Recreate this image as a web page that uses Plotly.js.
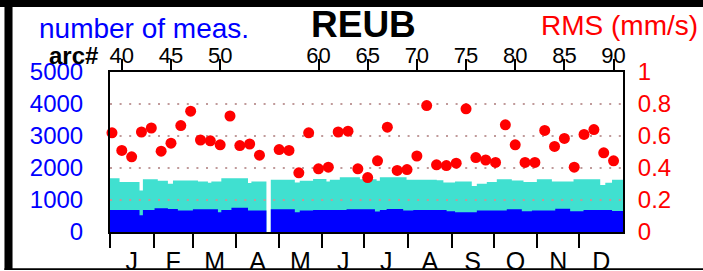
<!DOCTYPE html>
<html>
<head>
<meta charset="utf-8">
<script src="https://cdn.plot.ly/plotly-3.0.1.min.js"></script>
<style>html,body{margin:0;padding:0;background:#fff;}#chart{width:703px;height:271px;}</style>
</head>
<body>
<div id="chart"></div>
<script>
// ---- data ----
const monthLetters = ['J','F','M','A','M','J','J','A','S','O','N','D'];
const monthLengths = [31,28,31,30,31,30,31,31,30,31,30,31];
const arcNumbers = [39,40,41,42,43,44,45,46,47,48,49,50,51,52,53,54,55,56,57,58,59,60,61,62,63,64,65,
                    66,67,68,69,70,71,72,73,74,75,76,77,78,79,80,81,82,83,84,85,86,87,88,89,90,91];
const rmsValues = [0.62,0.51,0.47,0.625,0.65,0.505,0.555,0.665,0.755,0.575,0.57,0.545,0.725,0.54,0.55,0.48,null,
                   0.515,0.51,0.37,0.62,0.395,0.405,0.625,0.63,0.395,0.34,0.445,0.655,0.385,0.39,0.475,0.79,
                   0.42,0.415,0.43,0.77,0.465,0.45,0.435,0.67,0.545,0.435,0.435,0.635,0.535,0.585,0.405,0.61,
                   0.64,0.495,0.445,0.77];
const arcTickLabels = [40,45,50,60,65,70,75,80,85,90];
// total number of measurements (step segments: start day, count)
const totalStartDay = [0,6.8,21,23.4,34,41.2,44.8,62.6,69.7,72.1,79.2,98.2,100.6,111.3,114.4,131.5,135,144.5,154,
                       156.4,163.5,177.8,189.7,192,211,232.5,237.2,245.5,257.4,261,268.1,275.2,285.9,294.2,303.7,
                       314.4,329.8,348.8,352.4,357.2];
const totalCount = [1680,1560,1300,1650,1600,1510,1610,1580,1540,1580,1680,1530,1580,0,1630,1550,1600,1660,1580,
                    1630,1710,1650,1600,1710,1630,1620,1550,1580,1440,1510,1560,1650,1610,1560,1650,
                    1580,1650,1470,1540,1630];
// accepted measurements (step segments: start day, count)
const acceptedStartDay = [0,21,23.4,31.7,41.2,48.3,59,76.8,79.2,86.4,98.2,111.3,114.4,131.5,135,144.5,168.3,188.5,
                          192,196.8,208.6,215.8,239.5,245.5,261,282.3,293,300.2,316.8,327.4,336.9,357.2];
const acceptedCount = [690,520,690,740,720,670,710,620,690,760,670,0,710,620,670,690,710,640,
                       690,720,670,690,650,620,670,710,650,670,730,650,690,660];
const countTicks = [0,1000,2000,3000,4000,5000];
const rmsTicks = [0,0.2,0.4,0.6,0.8,1];
const rmsTickText = ['0','0.2','0.4','0.6','0.8','1'];
const stationName = 'REUB';

// ---- derived ----
const yearDays = monthLengths.reduce((a,b)=>a+b,0);
const monthStarts = []; const monthMids = [];
let acc = 0;
monthLengths.forEach(d => { monthStarts.push(acc); monthMids.push(acc + d/2); acc += d; });

function stepTrace(days, counts, color){
  return {
    x: days.concat([yearDays]), y: counts.concat([counts[counts.length-1]]),
    xaxis:'x', yaxis:'y', type:'scatter', mode:'lines',
    line:{shape:'hv', width:0, color:color}, fill:'tozeroy', fillcolor:color,
    hoverinfo:'skip', showlegend:false
  };
}
const gx = [], gy = [];
countTicks.slice(1, -1).forEach(v => { gx.push(0, yearDays, null); gy.push(v, v, null); });

const FONT = 'Liberation Sans, Arial, Helvetica, sans-serif';
const data = [
  stepTrace(totalStartDay, totalCount, '#40e0d0'),
  stepTrace(acceptedStartDay, acceptedCount, '#0000ff'),
  {x:gx, y:gy, xaxis:'x', yaxis:'y', type:'scatter', mode:'lines',
   line:{color:'#c09a9a', width:2, dash:'2px,7.6px'}, hoverinfo:'skip', showlegend:false},
  {x:arcNumbers, y:rmsValues, xaxis:'x2', yaxis:'y2', type:'scatter', mode:'markers',
   marker:{color:'#ff0000', size:11}, cliponaxis:false, hoverinfo:'skip', showlegend:false}
];

const layout = {
  width:703, height:271, margin:{l:110, r:80, t:72, b:39},
  paper_bgcolor:'#fff', plot_bgcolor:'#fff', showlegend:false,
  font:{family:FONT, color:'#000'},
  xaxis:{range:[0, yearDays], tickmode:'array', tickvals:monthMids, ticktext:monthLetters,
         ticks:'', ticklabelstandoff:6, tickfont:{size:25, color:'#000'},
         showgrid:false, zeroline:false, showline:true, linecolor:'#000', linewidth:2,
         minor:{tickmode:'array', tickvals:monthStarts, ticks:'outside', ticklen:14, tickwidth:2, tickcolor:'#000', showgrid:false}},
  xaxis2:{range:[38.8, 90.96], overlaying:'x', anchor:'y2', side:'top', tickmode:'array', tickvals:arcTickLabels,
          ticktext:arcTickLabels.map(String), ticks:'outside', ticklen:11, tickwidth:2, tickcolor:'#000',
          ticklabelstandoff:-13,
          tickfont:{size:22, color:'#000'}, showgrid:false, zeroline:false, showline:true, linecolor:'#000', linewidth:2},
  yaxis:{range:[0,5000], tickmode:'array', tickvals:countTicks, ticks:'', ticklabelstandoff:20,
         tickfont:{size:24, color:'#0000ff'}, showgrid:false, zeroline:false, showline:true, linecolor:'#000', linewidth:2},
  yaxis2:{range:[0,1], overlaying:'y', anchor:'x2', side:'right', tickmode:'array', tickvals:rmsTicks, ticktext:rmsTickText,
          ticks:'', ticklabelstandoff:8, tickfont:{size:24, color:'#ff0000'}, showgrid:false, zeroline:false,
          showline:true, linecolor:'#000', linewidth:2},
  annotations:[
    {text:'number of meas.', xref:'paper', yref:'paper', x:-0.1423, y:1.275, xanchor:'left', yanchor:'middle',
     showarrow:false, font:{size:28, color:'#0000ff', family:FONT}},
    {text:'<b>'+stationName+'</b>', xref:'paper', yref:'paper', x:0.495, y:1.294, xanchor:'center', yanchor:'middle',
     showarrow:false, font:{size:37, color:'#000', family:FONT}},
    {text:'RMS (mm/s)', xref:'paper', yref:'paper', x:1.150, y:1.2875, xanchor:'right', yanchor:'middle',
     showarrow:false, font:{size:28, color:'#ff0000', family:FONT}},
    {text:'<b>arc#</b>', xref:'paper', yref:'paper', x:-0.0195, y:1.1, xanchor:'right', yanchor:'middle',
     showarrow:false, font:{size:24, color:'#000', family:FONT}}
  ],
  shapes:[
    {type:'rect', xref:'paper', yref:'paper', x0:-0.3, x1:1.2, y0:1.406, y1:1.6, fillcolor:'#000', line:{width:0}, layer:'above'},
    {type:'rect', xref:'paper', yref:'paper', x0:-0.2057, x1:-0.19, y0:-0.2375, y1:1.6, fillcolor:'#000', line:{width:0}, layer:'above'},
    {type:'rect', xref:'paper', yref:'paper', x0:-0.2057, x1:1.2, y0:-0.2375, y1:-0.227, fillcolor:'#000', line:{width:0}, layer:'above'}
  ]
};
Plotly.newPlot('chart', data, layout, {displayModeBar:false, staticPlot:true});
</script>
</body>
</html>
